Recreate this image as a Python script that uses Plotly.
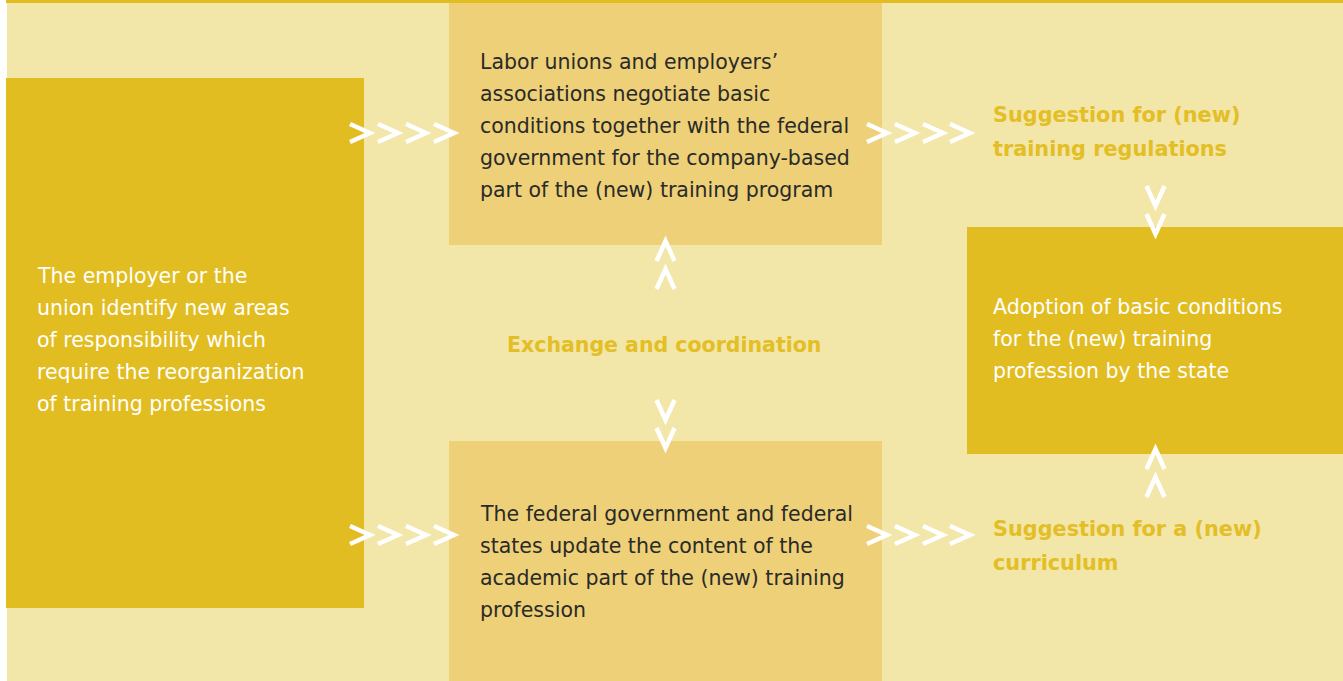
import plotly.graph_objects as go

W, H = 1343, 681

# ---- colours
PAGE = "#FFFFFF"
PALE = "#F2E6A9"
MID = "#EDD077"
DARK = "#E2BD21"
ACCENT = "#E3BE25"
INK = "#2A2A28"
FONT = "DejaVu Sans"
SIZE = 20.5
BSIZE = 20.8

# ---- texts (one entry per line)
left_lines = ["The employer or the", "union identify new areas", "of responsibility which",
              "require the reorganization", "of training professions"]
top_lines = ["Labor unions and employers\u2019", "associations negotiate basic",
             "conditions together with the federal", "government for the company-based",
             "part of the (new) training program"]
bottom_lines = ["The federal government and federal", "states update the content of the",
                "academic part of the (new) training", "profession"]
right_lines = ["Adoption of basic conditions", "for the (new) training", "profession by the state"]
sugg_reg_lines = ["Suggestion for (new)", "training regulations"]
sugg_cur_lines = ["Suggestion for a (new)", "curriculum"]
center_label = "Exchange and coordination"

# ---- layout geometry (pixels)
boxes = [  # x0, y0, x1, y1, colour
    (7, 3, W, H, PALE),
    (6, 0, W, 3, DARK),
    (6, 78, 364, 608, DARK),
    (449, 3, 882, 245, MID),
    (449, 441, 882, H, MID),
    (967, 227, W, 454, DARK),
]

fig = go.Figure()
fig.add_trace(go.Scatter(x=[0, W], y=[0, H], mode="markers",
                         marker=dict(opacity=0), hoverinfo="skip", showlegend=False))

for x0, y0, x1, y1, c in boxes:
    fig.add_shape(type="rect", x0=x0, y0=y0, x1=x1, y1=y1,
                  fillcolor=c, line=dict(width=0), layer="below")


def add_lines(lines, x, y0, dy, color, size=SIZE, bold=False):
    for i, t in enumerate(lines):
        txt = f"<b>{t}</b>" if bold else t
        fig.add_annotation(x=x, y=y0 + i * dy, text=txt, showarrow=False,
                           xanchor="left", yanchor="middle",
                           font=dict(family=FONT, size=size, color=color))


add_lines(left_lines, 35, 276, 32, "#FFFFFF")
add_lines(top_lines, 478, 62, 32, INK)
add_lines(bottom_lines, 478, 514, 32, INK)
add_lines(right_lines, 991, 307, 32, "#FFFFFF")
add_lines(sugg_reg_lines, 991, 115, 34, ACCENT, size=BSIZE, bold=True)
add_lines(sugg_cur_lines, 991, 529, 34, ACCENT, size=BSIZE, bold=True)
fig.add_annotation(x=664, y=345, text=f"<b>{center_label}</b>", showarrow=False,
                   xanchor="center", yanchor="middle",
                   font=dict(family=FONT, size=SIZE, color=ACCENT))

# ---- chevrons
def chev_right(x, y):
    return f"M{x},{y-9} L{x+20},{y} L{x},{y+9}"

def chev_down(x, y):
    return f"M{x-9},{y} L{x},{y+20} L{x+9},{y}"

def chev_up(x, y):
    return f"M{x-9},{y+20} L{x},{y} L{x+9},{y+20}"

paths = []
for y in (133, 535):
    for x in (350, 378, 406, 434):
        paths.append(chev_right(x, y))
    for x in (867, 895, 923, 950):
        paths.append(chev_right(x, y))
for y in (186, 214):
    paths.append(chev_down(1155.5, y))
for y in (241, 269):
    paths.append(chev_up(665.5, y))
for y in (400, 428):
    paths.append(chev_down(665.5, y))
for y in (449, 477):
    paths.append(chev_up(1155.5, y))

for p in paths:
    fig.add_shape(type="path", path=p, line=dict(color="#FFFFFF", width=4.5), layer="above")

fig.update_layout(
    width=W, height=H, margin=dict(l=0, r=0, t=0, b=0),
    paper_bgcolor=PAGE, plot_bgcolor=PAGE,
    xaxis=dict(range=[0, W], visible=False, fixedrange=True),
    yaxis=dict(range=[H, 0], visible=False, fixedrange=True),
    showlegend=False,
)
fig.write_html("out.html", config={"displayModeBar": False},
               post_script="document.body.style.margin='0';document.body.style.overflow='hidden';")
